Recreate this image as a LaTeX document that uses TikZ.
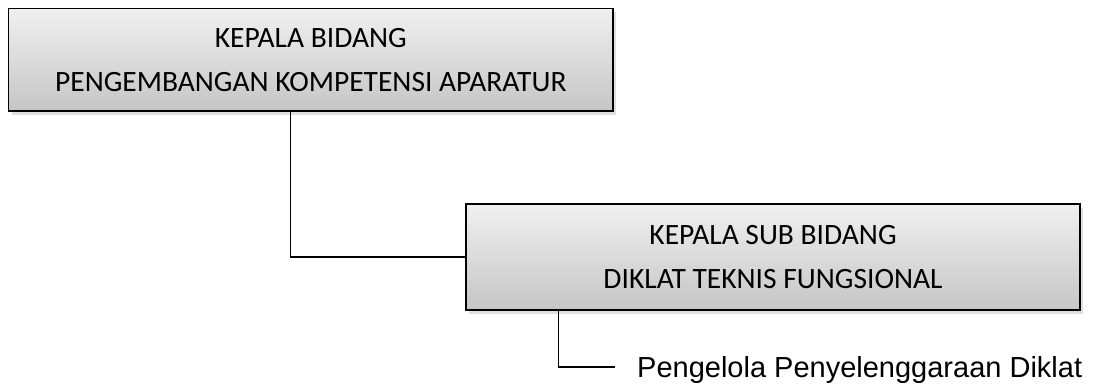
\documentclass[tikz,border=0pt]{standalone}
\usepackage{fontspec}
\setmainfont{Carlito}
\newfontfamily\arialfont{Liberation Sans}
\usetikzlibrary{%
    shadows,%
    calc
}

\begin{document}
\begin{tikzpicture}[x=1pt,y=-1pt,
 jabatan/.style={draw,line width=1.5pt,top color=gray!12,bottom color=gray!45,
        drop shadow={opacity=0.25,shadow xshift=3pt,shadow yshift=-4pt},
        align=center,inner sep=0pt,font=\fontsize{29.5}{44}\selectfont},
 garis/.style={line width=1.3pt}]

\useasboundingbox (0,0) rectangle (1095,387);

\node[jabatan,minimum width=604.5pt,minimum height=102.5pt] (kabid) at (310.75,59.75)
      {KEPALA BIDANG\\PENGEMBANGAN KOMPETENSI APARATUR};
\node[jabatan,minimum width=614pt,minimum height=106pt] (kasubbid) at (773,257)
      {KEPALA SUB BIDANG\\DIKLAT TEKNIS FUNGSIONAL};

% pelaksana
\node[anchor=west,inner sep=0pt,text height=20.8pt,text depth=0pt,
      font=\arialfont\fontsize{29}{34}\selectfont] (pengelola) at (637,367)
      {Pengelola Penyelenggaraan Diklat};

\draw[garis] ([xshift=-20pt]kabid.south) |- (kasubbid.west);
\draw[garis] ([xshift=93pt]kasubbid.south west) |- ([xshift=-22pt]pengelola.west);
\end{tikzpicture}
\end{document}
